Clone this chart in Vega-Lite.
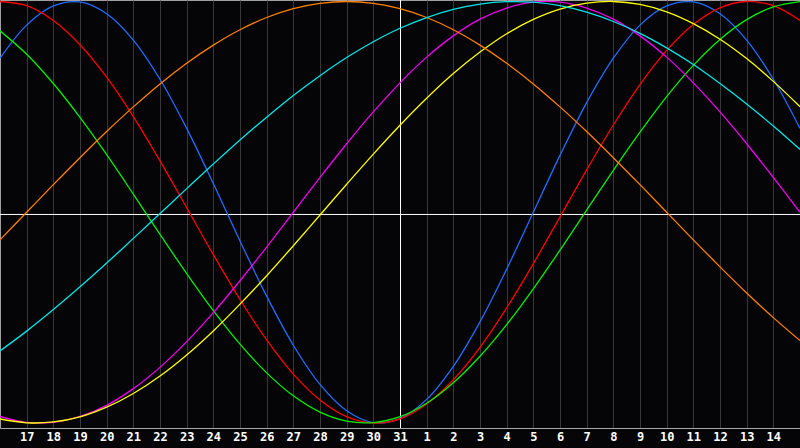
{
  "$schema": "https://vega.github.io/schema/vega-lite/v6.json",
  "width": 800,
  "height": 428,
  "autosize": {"type": "none"},
  "padding": {"left": 0, "top": 0, "right": 0, "bottom": 20},
  "background": "#050508",
  "config": {"view": {"stroke": "#a0a0a0", "strokeWidth": 1}},
  "datasets": {
    "curves": [
      {"i":0,"physical":0.731,"emotional":1.000,"intellectual":0.861,"intuitive":-0.969,"aesthetic":-0.981,"awareness":-0.131,"spiritual":-0.658},
      {"i":1,"physical":0.888,"emotional":0.980,"intellectual":0.750,"intuitive":-0.997,"aesthetic":-0.999,"awareness":0.000,"spiritual":-0.564},
      {"i":2,"physical":0.979,"emotional":0.910,"intellectual":0.611,"intuitive":-0.997,"aesthetic":-0.995,"awareness":0.131,"spiritual":-0.462},
      {"i":3,"physical":0.998,"emotional":0.795,"intellectual":0.450,"intuitive":-0.969,"aesthetic":-0.971,"awareness":0.259,"spiritual":-0.354},
      {"i":4,"physical":0.942,"emotional":0.641,"intellectual":0.273,"intuitive":-0.916,"aesthetic":-0.925,"awareness":0.383,"spiritual":-0.241},
      {"i":5,"physical":0.817,"emotional":0.454,"intellectual":0.086,"intuitive":-0.837,"aesthetic":-0.860,"awareness":0.500,"spiritual":-0.124},
      {"i":6,"physical":0.631,"emotional":0.244,"intellectual":-0.105,"intuitive":-0.736,"aesthetic":-0.777,"awareness":0.609,"spiritual":-0.006},
      {"i":7,"physical":0.398,"emotional":0.022,"intellectual":-0.291,"intuitive":-0.614,"aesthetic":-0.677,"awareness":0.707,"spiritual":0.112},
      {"i":8,"physical":0.136,"emotional":-0.201,"intellectual":-0.467,"intuitive":-0.476,"aesthetic":-0.563,"awareness":0.793,"spiritual":0.229},
      {"i":9,"physical":-0.136,"emotional":-0.414,"intellectual":-0.626,"intuitive":-0.325,"aesthetic":-0.436,"awareness":0.866,"spiritual":0.343},
      {"i":10,"physical":-0.398,"emotional":-0.606,"intellectual":-0.762,"intuitive":-0.165,"aesthetic":-0.301,"awareness":0.924,"spiritual":0.451},
      {"i":11,"physical":-0.631,"emotional":-0.768,"intellectual":-0.871,"intuitive":0.000,"aesthetic":-0.159,"awareness":0.966,"spiritual":0.554},
      {"i":12,"physical":-0.817,"emotional":-0.891,"intellectual":-0.948,"intuitive":0.165,"aesthetic":-0.013,"awareness":0.991,"spiritual":0.648},
      {"i":13,"physical":-0.942,"emotional":-0.970,"intellectual":-0.991,"intuitive":0.325,"aesthetic":0.133,"awareness":1.000,"spiritual":0.734},
      {"i":14,"physical":-0.998,"emotional":-1.000,"intellectual":-0.998,"intuitive":0.476,"aesthetic":0.276,"awareness":0.991,"spiritual":0.809},
      {"i":15,"physical":-0.979,"emotional":-0.980,"intellectual":-0.970,"intuitive":0.614,"aesthetic":0.413,"awareness":0.966,"spiritual":0.873},
      {"i":16,"physical":-0.888,"emotional":-0.910,"intellectual":-0.906,"intuitive":0.736,"aesthetic":0.541,"awareness":0.924,"spiritual":0.924},
      {"i":17,"physical":-0.731,"emotional":-0.795,"intellectual":-0.809,"intuitive":0.837,"aesthetic":0.658,"awareness":0.866,"spiritual":0.963},
      {"i":18,"physical":-0.520,"emotional":-0.641,"intellectual":-0.683,"intuitive":0.916,"aesthetic":0.760,"awareness":0.793,"spiritual":0.988},
      {"i":19,"physical":-0.270,"emotional":-0.454,"intellectual":-0.533,"intuitive":0.969,"aesthetic":0.847,"awareness":0.707,"spiritual":0.999},
      {"i":20,"physical":0.000,"emotional":-0.244,"intellectual":-0.363,"intuitive":0.997,"aesthetic":0.915,"awareness":0.609,"spiritual":0.997},
      {"i":21,"physical":0.270,"emotional":-0.022,"intellectual":-0.180,"intuitive":0.997,"aesthetic":0.964,"awareness":0.500,"spiritual":0.980},
      {"i":22,"physical":0.520,"emotional":0.201,"intellectual":0.010,"intuitive":0.969,"aesthetic":0.992,"awareness":0.383,"spiritual":0.949},
      {"i":23,"physical":0.731,"emotional":0.414,"intellectual":0.199,"intuitive":0.916,"aesthetic":1.000,"awareness":0.259,"spiritual":0.905},
      {"i":24,"physical":0.888,"emotional":0.606,"intellectual":0.380,"intuitive":0.837,"aesthetic":0.986,"awareness":0.131,"spiritual":0.849},
      {"i":25,"physical":0.979,"emotional":0.768,"intellectual":0.549,"intuitive":0.736,"aesthetic":0.951,"awareness":0.000,"spiritual":0.780},
      {"i":26,"physical":0.998,"emotional":0.891,"intellectual":0.697,"intuitive":0.614,"aesthetic":0.895,"awareness":-0.131,"spiritual":0.701},
      {"i":27,"physical":0.942,"emotional":0.970,"intellectual":0.820,"intuitive":0.476,"aesthetic":0.821,"awareness":-0.259,"spiritual":0.611},
      {"i":28,"physical":0.817,"emotional":1.000,"intellectual":0.914,"intuitive":0.325,"aesthetic":0.729,"awareness":-0.383,"spiritual":0.514},
      {"i":29,"physical":0.631,"emotional":0.980,"intellectual":0.974,"intuitive":0.165,"aesthetic":0.621,"awareness":-0.500,"spiritual":0.409},
      {"i":30,"physical":0.398,"emotional":0.910,"intellectual":0.999,"intuitive":0.000,"aesthetic":0.501,"awareness":-0.609,"spiritual":0.298}
    ]
  },
  "layer": [
    {
      "data": {"values": [{"i": 15.019}]},
      "mark": {"type": "rule", "color": "#ffffff", "strokeWidth": 1},
      "encoding": {
        "x": {
          "field": "i", "type": "quantitative",
          "scale": {"domain": [0, 30], "nice": false, "zero": false},
          "axis": {
            "values": [1,2,3,4,5,6,7,8,9,10,11,12,13,14,15,16,17,18,19,20,21,22,23,24,25,26,27,28,29],
            "tickCount": 60,
            "labelExpr": "datum.value <= 15 ? datum.value + 16 : datum.value - 15",
            "grid": true, "gridColor": "#383838", "gridWidth": 1,
            "ticks": false, "domainColor": "#a8a8a8", "domainWidth": 1,
            "labelColor": "#ffffff", "labelFont": "DejaVu Sans Mono", "labelFontWeight": "bold",
            "labelFontSize": 12, "labelPadding": 3, "labelFlush": false, "labelOverlap": false,
            "title": null
          }
        }
      }
    },
    {
      "data": {"values": [{"v": -0.0105}]},
      "mark": {"type": "rule", "color": "#ffffff", "strokeWidth": 1},
      "encoding": {
        "y": {"field": "v", "type": "quantitative", "scale": {"domain": [-1.0237, 1.0071], "nice": false, "zero": false}, "axis": null}
      }
    },
    {
      "data": {"name": "curves"},
      "transform": [{"fold": ["physical","emotional","intellectual","intuitive","aesthetic","awareness","spiritual"], "as": ["rhythm", "v"]}],
      "mark": {"type": "line", "strokeWidth": 1.3, "interpolate": "catmull-rom", "clip": true},
      "encoding": {
        "x": {"field": "i", "type": "quantitative"},
        "y": {"field": "v", "type": "quantitative", "axis": null},
        "color": {
          "field": "rhythm", "type": "nominal", "legend": null,
          "scale": {
            "domain": ["physical","emotional","intellectual","intuitive","aesthetic","awareness","spiritual"],
            "range": ["#1e6eff","#ff0000","#00f000","#f000f0","#ffff00","#ff8000","#00e6e6"]
          }
        }
      }
    }
  ]
}
